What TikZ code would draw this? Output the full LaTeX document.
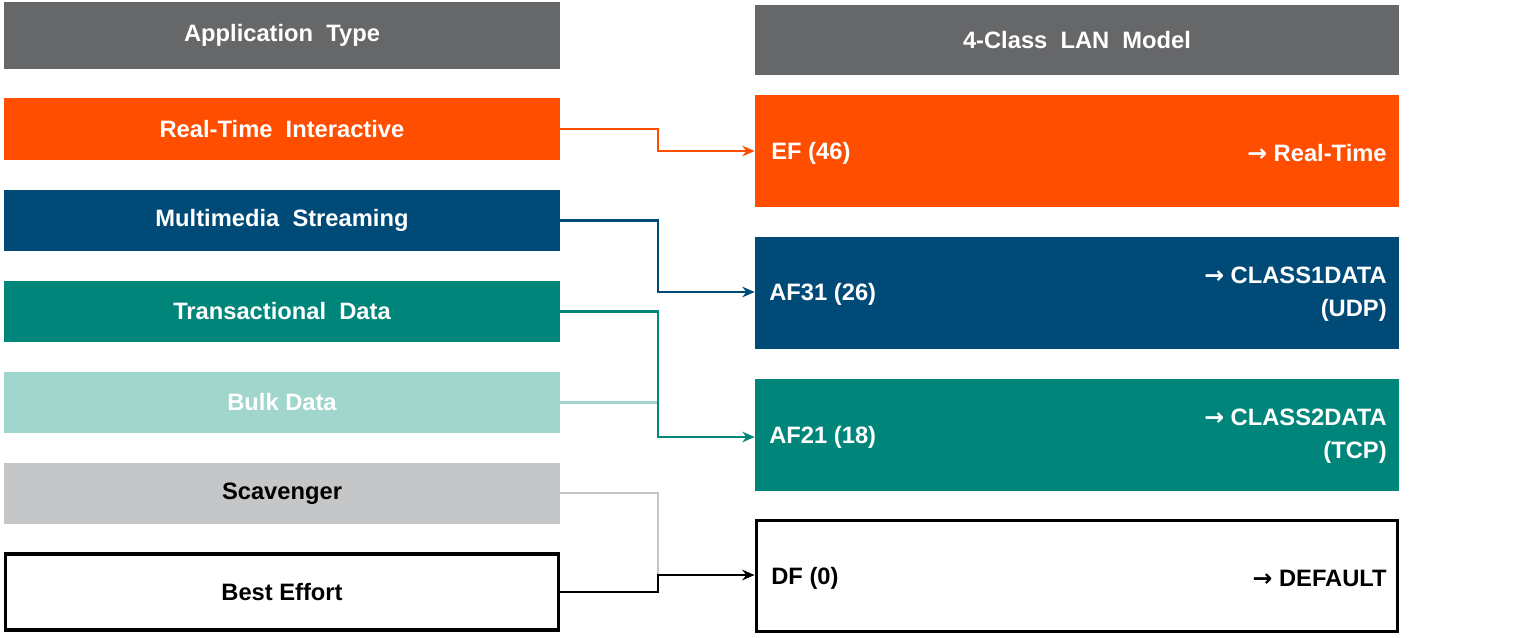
\documentclass[tikz,border=0pt]{standalone}
\usepackage{fontspec}
\setmainfont{Liberation Sans}
\newfontfamily\arrfont{DejaVu Sans}
\usetikzlibrary{arrows.meta}
\definecolor{hdr}{HTML}{666769}
\definecolor{org}{HTML}{FF4E00}
\definecolor{blu}{HTML}{004A77}
\definecolor{tea}{HTML}{00857A}
\definecolor{ltea}{HTML}{A1D6CC}
\definecolor{lgr}{HTML}{C4C6C8}
\newcommand{\ar}{{\arrfont\bfseries →}}
\begin{document}
\begin{tikzpicture}[x=0.02cm,y=-0.02cm,
  box/.style={minimum width=556*0.02cm,inner sep=0pt,font=\fontsize{13.5}{16}\selectfont\bfseries,text=white},
  rbox/.style={minimum width=644*0.02cm,inner sep=0pt},
  lbl/.style={font=\fontsize{13.5}{16}\selectfont\bfseries,text=white,inner sep=0pt},
  con/.style={line width=1.6pt},
  tip/.style={-{Stealth[length=7pt,width=6pt]}}]
\useasboundingbox (0,0) rectangle (1533,637);
% left
\node[box,fill=hdr,minimum height=67*0.02cm] (lh) at (282,35.5) {Application\ \ Type};
\node[box,fill=org,minimum height=62*0.02cm] (l1) at (282,129) {Real-Time\ \ Interactive};
\node[box,fill=blu,minimum height=61*0.02cm] (l2) at (282,220.5) {Multimedia\ \ Streaming};
\node[box,fill=tea,minimum height=61*0.02cm] (l3) at (282,311.5) {Transactional\ \ Data};
\node[box,fill=ltea,minimum height=61*0.02cm] (l4) at (282,402.5) {Bulk\ Data};
\node[box,fill=lgr,minimum height=61*0.02cm,text=black] (l5) at (282,493.5) {Scavenger};
\node[box,draw=black,line width=2.2pt,fill=white,minimum width=553*0.02cm,minimum height=76*0.02cm,text=black] (l6) at (282,592) {Best\ Effort};
% right
\node[rbox,fill=hdr,minimum height=70*0.02cm,lbl] (rh) at (1077,40) {4-Class\ \ LAN\ \ Model};
\node[rbox,fill=org,minimum height=112*0.02cm] (r1) at (1077,151) {};
\node[rbox,fill=blu,minimum height=112*0.02cm] (r2) at (1077,293) {};
\node[rbox,fill=tea,minimum height=112*0.02cm] (r3) at (1077,435) {};
\node[rbox,draw=black,line width=2.2pt,fill=white,minimum width=641*0.02cm,minimum height=111*0.02cm] (r4) at (1077,576) {};
\node[lbl,anchor=west] (t1) at (771,153) {EF (46)};
\node[lbl,anchor=east] (u1) at (1387,153) {\ar\ Real-Time};
\node[lbl,anchor=west] (t2) at (769,294) {AF31\ (26)};
\node[lbl,anchor=east,align=right] (u2) at (1387,294) {\ar\ CLASS1DATA\\[3pt](UDP)};
\node[lbl,anchor=west] (t3) at (769,437) {AF21\ (18)};
\node[lbl,anchor=east,align=right] (u3) at (1387,436) {\ar\ CLASS2DATA\\[3pt](TCP)};
\node[lbl,anchor=west,text=black] (t4) at (771,578) {DF (0)};
\node[lbl,anchor=east,text=black] (u4) at (1387,578) {\ar\ DEFAULT};
% connectors
\coordinate (j) at (658,575);
\draw[con,lgr] (l5.east |- 0,493) -| (j);
\draw[con,ltea] (l4.east) -- (658,402.5);
\draw[con,org,tip] (l1.east) -| (658,151) -- (r1.west |- 0,151);
\draw[con,blu,tip] (l2.east) -| (658,292) -- (r2.west |- 0,292);
\draw[con,tea,tip] (l3.east) -| (658,437) -- (r3.west |- 0,437);
\draw[con,black,tip] (l6.east) -| (j) -- (r4.west |- j);
\end{tikzpicture}
\end{document}
